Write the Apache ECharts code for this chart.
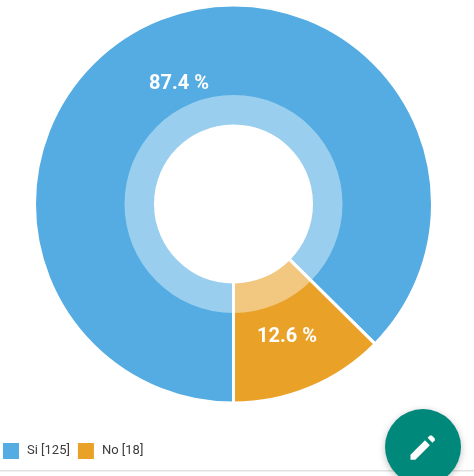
<!DOCTYPE html>
<html>
<head>
<meta charset="utf-8">
<style>html,body{margin:0;padding:0;background:#fff}#c{width:474px;height:476px}</style>
<script src="https://cdn.jsdelivr.net/npm/echarts@6/dist/echarts.min.js"></script>
</head>
<body>
<div id="c"></div>
<script>
const categories = ['Si', 'No'];
const counts = [125, 18];
const colors = ['#54ACE3', '#E9A128'];
const labelSpots = [[179, 83.5], [287, 336.5]];

const names = categories.map((c, i) => c + ' [' + counts[i] + ']');
const pieData = names.map((n, i) => ({ name: n, value: counts[i], itemStyle: { color: colors[i] } }));
const center = [233.5, 204];
const chart = echarts.init(document.getElementById('c'), null, { renderer: 'canvas' });
chart.setOption({
  animation: false,
  backgroundColor: '#fff',
  legend: {
    left: 1, top: 441, orient: 'horizontal',
    icon: 'rect', itemWidth: 18, itemHeight: 18, itemGap: 6,
    padding: 0, selectedMode: false,
    textStyle: { fontFamily: 'Roboto', fontSize: 13, color: '#3c3c3c', padding: [1, 0, 0, 2] },
    data: names
  },
  series: [
    {
      type: 'pie', center, radius: [78, 199], startAngle: 270, clockwise: true,
      percentPrecision: 1, silent: true,
      itemStyle: { borderColor: '#fff', borderWidth: 3 },
      label: {
        position: 'inside', formatter: '{d} %', color: '#fff',
        fontFamily: 'Roboto', fontSize: 20, fontWeight: 700,
        align: 'center', verticalAlign: 'middle'
      },
      labelLayout: p => ({ x: labelSpots[p.dataIndex][0], y: labelSpots[p.dataIndex][1] }),
      labelLine: { show: false },
      data: pieData
    },
    {
      type: 'pie', center, radius: [78, 109], startAngle: 270, clockwise: true,
      silent: true, z: 3,
      itemStyle: { color: 'rgba(255,255,255,0.41)', borderWidth: 0 },
      label: { show: false }, labelLine: { show: false },
      data: names.map((n, i) => ({ name: n, value: counts[i], itemStyle: { color: 'rgba(255,255,255,0.41)' } }))
    }
  ],
  graphic: [
    { type: 'rect', z: 1, shape: { x: 0, y: 470, width: 474, height: 1.5 }, style: { fill: '#e2e2e2' } },
    { type: 'circle', z: 5, shape: { cx: 423, cy: 447, r: 38 },
      style: { fill: '#00897B', shadowBlur: 7, shadowColor: 'rgba(0,0,0,0.25)', shadowOffsetY: 2 } },
    { type: 'group', z: 6, x: 410.5, y: 435, scaleX: 1.03, scaleY: 1.03, children: [
      { type: 'polygon', z: 6, shape: { points: [[0,19.25],[0,24],[4.75,24],[18.8,9.94],[14.05,5.19]] }, style: { fill: '#fff' } },
      { type: 'polygon', z: 6, shape: { points: [[23.6,5.13],[23.6,3.33],[20.67,0.4],[18.87,0.4],[16.57,2.7],[21.32,7.45]] }, style: { fill: '#fff' } }
    ] }
  ]
});
</script>
</body>
</html>
